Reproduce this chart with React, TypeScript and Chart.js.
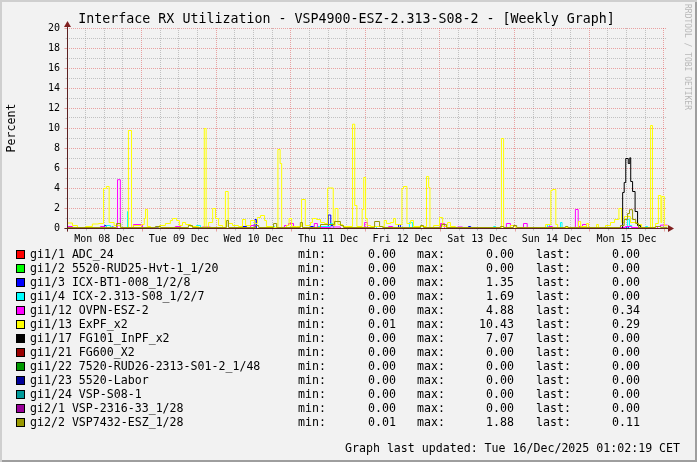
import React, { useEffect, useRef } from "react";
import { Chart, registerables } from "chart.js";

Chart.register(...registerables);

type Pt = [number, number];

// x values: hours since Mon 08 Dec 2025 00:00 CET
const X_START = 0;
const X_END = 193.03; // Tue 16 Dec 01:02
const Y_MIN = 0;
const Y_MAX = 20;

const dayLabels = ["Mon 08 Dec", "Tue 09 Dec", "Wed 10 Dec", "Thu 11 Dec", "Fri 12 Dec", "Sat 13 Dec", "Sun 14 Dec", "Mon 15 Dec"];
const gridHours = [0, 6, 12, 18, 24, 30, 36, 42, 48, 54, 60, 66, 72, 78, 84, 90, 96, 102, 108, 114, 120, 126, 132, 138, 144, 150, 156, 162, 168, 174, 180, 186, 192];
const yGridValues = [0, 1, 2, 3, 4, 5, 6, 7, 8, 9, 10, 11, 12, 13, 14, 15, 16, 17, 18, 19, 20];

const titleText = "Interface RX Utilization - VSP4900-ESZ-2.313-S08-2 - [Weekly Graph]";
const yAxisTitle = "Percent";
const watermark = "RRDTOOL / TOBI OETIKER";
const footerText = "Graph last updated: Tue 16/Dec/2025 01:02:19 CET";

const seriesNames = [
  "gi1/1 ADC_24",
  "gi1/2 5520-RUD25-Hvt-1_1/20",
  "gi1/3 ICX-BT1-008_1/2/8",
  "gi1/4 ICX-2.313-S08_1/2/7",
  "gi1/12 OVPN-ESZ-2",
  "gi1/13 ExPF_x2",
  "gi1/17 FG101_InPF_x2",
  "gi1/21 FG600_X2",
  "gi1/22 7520-RUD26-2313-S01-2_1/48",
  "gi1/23 5520-Labor",
  "gi1/24 VSP-S08-1",
  "gi2/1 VSP-2316-33_1/28",
  "gi2/2 VSP7432-ESZ_1/28",
];
const seriesColors = ["#ff0000", "#00ff00", "#0000ff", "#00ffff", "#ff00ff", "#ffff00", "#000000", "#990000", "#009900", "#000099", "#009999", "#990099", "#999900"];
const minValues = [0, 0, 0, 0, 0, 0.01, 0, 0, 0, 0, 0, 0, 0.01];
const maxValues = [0, 0, 1.35, 1.69, 4.88, 10.43, 7.07, 0, 0, 0, 0, 0, 1.88];
const lastValues = [0, 0, 0, 0, 0.34, 0.29, 0, 0, 0, 0, 0, 0, 0.11];

// step series: [hour, value] — value holds until the next point
const gi1_1: Pt[] = [[0, 0], [193.03, 0]];
const gi1_2: Pt[] = [[0, 0], [193.03, 0]];
const gi1_3: Pt[] = [[0, 0], [6.1, 0.15], [6.8, 0], [11.9, 0.3], [12.5, 0], [14.2, 0.15], [14.8, 0], [27.0, 0.1], [29.3, 0], [56.3, 0.2], [57.6, 0], [60.3, 0.9], [60.8, 0], [78.2, 0.2], [79.1, 0], [83.9, 1.35], [84.7, 0.3], [85.6, 0], [106.5, 0.4], [107.1, 0], [129.0, 0.2], [129.7, 0], [179.9, 0.2], [180.5, 0], [193.03, 0]];
const gi1_4: Pt[] = [[0, 0], [12.5, 0.3], [13.8, 0], [19.3, 1.69], [19.6, 0], [41.5, 0.3], [42.8, 0], [65.3, 0.2], [66.6, 0], [80.4, 0.2], [84.6, 0.5], [85.6, 0], [98.5, 0.2], [99.4, 0], [110.0, 0.6], [111.0, 0], [112.9, 0.2], [113.6, 0], [137.1, 0.2], [137.7, 0], [154.4, 0.4], [155.1, 0], [158.6, 0.6], [159.1, 0], [180.2, 0.9], [180.8, 0.3], [181.5, 0], [186.0, 0.2], [186.6, 0], [193.03, 0]];
const gi1_12: Pt[] = [[0, 0.2], [1.6, 0], [10.6, 0.2], [11.9, 0], [16.1, 4.88], [17.0, 0.1], [17.7, 0], [21.2, 0.4], [24.1, 0.1], [25.1, 0], [34.7, 0.2], [36.4, 0], [43.4, 0.15], [46.0, 0], [58.9, 0.3], [60.5, 0], [69.8, 0.3], [71.1, 0.5], [72.7, 0], [79.4, 0.5], [80.4, 0.1], [84.6, 0.15], [87.8, 0], [95.6, 0.6], [96.5, 0.1], [97.8, 0], [103.3, 0.2], [104.6, 0], [120.0, 0.5], [121.3, 0], [125.5, 0.15], [127.1, 0], [141.2, 0.5], [142.5, 0], [146.7, 0.5], [147.9, 0], [154.8, 0.2], [156.0, 0], [163.4, 1.9], [164.3, 0.2], [165.7, 0.4], [167.0, 0.1], [168.3, 0], [171.5, 0.1], [179.5, 0.2], [181.5, 0.1], [184.3, 0], [189.8, 0.2], [190.8, 0.34], [193.03, 0.34]];
const gi1_13: Pt[] = [[0, 0.55], [1.6, 0.3], [3.2, 0.1], [5.8, 0.2], [8.0, 0.45], [10.0, 0.5], [11.6, 4.0], [12.5, 4.2], [13.4, 0.6], [15.0, 0.3], [17.1, 0.1], [19.6, 9.8], [20.6, 0.1], [21.2, 0.3], [23.8, 0.4], [24.7, 1.0], [25.1, 1.9], [25.7, 0.2], [26.7, 0.05], [29.6, 0.3], [31.5, 0.5], [33.1, 0.8], [33.8, 1.0], [35.1, 0.8], [36.0, 0.3], [37.0, 0.6], [38.0, 0.4], [39.6, 0.2], [42.1, 0.1], [44.0, 10.0], [44.6, 0.1], [45.4, 0.6], [46.7, 2.0], [47.6, 1.0], [48.6, 0.3], [49.9, 0.1], [50.8, 3.7], [51.7, 0.5], [53.1, 0.3], [55.0, 0.2], [56.3, 0.9], [57.3, 0.3], [58.9, 0.8], [60.2, 0.5], [61.1, 1.1], [62.1, 1.3], [63.4, 0.8], [64.0, 0.2], [66.0, 0.1], [67.7, 7.9], [68.4, 6.5], [68.9, 0.1], [70.5, 0.3], [71.3, 1.0], [72.1, 0.2], [73.7, 0.2], [75.3, 2.9], [76.5, 0.3], [78.2, 0.6], [78.8, 1.0], [80.1, 0.9], [81.4, 0.6], [82.7, 0.5], [83.7, 4.05], [85.5, 0.3], [86.1, 2.0], [87.0, 0.4], [88.5, 0.2], [91.7, 10.43], [92.4, 2.3], [93.1, 0.2], [94.8, 1.9], [95.3, 5.1], [95.9, 1.0], [96.4, 0.3], [97.5, 0.2], [101.9, 0.8], [102.6, 0.5], [103.9, 0.6], [104.9, 1.0], [105.5, 0.4], [107.6, 4.0], [108.1, 4.2], [109.2, 0.5], [110.4, 0.8], [111.3, 0.2], [115.5, 5.2], [116.2, 4.1], [116.6, 0.1], [117.8, 0.3], [119.7, 1.1], [120.7, 0.2], [122.3, 0.6], [123.2, 0.2], [124.8, 0.1], [129.0, 0.05], [139.6, 9.0], [140.3, 0.1], [142.5, 0.3], [144.1, 0.05], [153.8, 0.4], [155.5, 3.8], [156.0, 3.9], [157.1, 0.4], [157.7, 0.1], [164.4, 0.7], [165.1, 0.2], [167.0, 0.5], [167.6, 0.1], [170.2, 0.4], [170.8, 0.05], [173.1, 0.3], [174.7, 0.6], [176.0, 0.9], [177.4, 2.0], [178.3, 0.6], [179.2, 1.2], [181.1, 0.6], [183.4, 0.4], [184.7, 0.1], [187.6, 10.3], [188.2, 0.1], [189.2, 0.5], [190.1, 3.3], [190.9, 0.6], [191.2, 3.2], [192.0, 0.29], [193.03, 0.29]];
const gi1_17: Pt[] = [[0, 0], [178.6, 3.6], [179.1, 4.6], [179.6, 7.0], [180.4, 6.5], [180.9, 7.07], [181.2, 4.7], [181.8, 3.7], [182.6, 1.7], [183.4, 0.3], [184.3, 0], [193.03, 0]];
const gi1_21: Pt[] = [[0, 0], [193.03, 0]];
const gi1_22: Pt[] = [[0, 0], [193.03, 0]];
const gi1_23: Pt[] = [[0, 0], [193.03, 0]];
const gi1_24: Pt[] = [[0, 0], [193.03, 0]];
const gi2_1: Pt[] = [[0, 0], [193.03, 0]];
const gi2_2: Pt[] = [[0, 0.1], [15.8, 0.5], [17.1, 0.1], [28.3, 0.2], [29.9, 0.1], [38.9, 0.3], [40.2, 0.1], [51.2, 0.8], [51.8, 0.1], [60.5, 0.3], [61.5, 0.1], [66.3, 0.5], [67.3, 0.1], [74.9, 0.6], [75.6, 0.1], [81.4, 0.4], [85.9, 0.7], [87.8, 0.3], [88.8, 0.1], [98.8, 0.7], [100.4, 0.2], [101.4, 0.1], [113.6, 0.3], [114.5, 0.1], [120.3, 0.4], [121.9, 0.1], [139.3, 0.2], [140.3, 0.1], [143.5, 0.3], [144.5, 0.1], [160.2, 0.2], [161.0, 0.1], [177.9, 0.3], [179.1, 0.9], [180.2, 1.5], [180.8, 1.88], [181.8, 0.9], [182.8, 0.5], [183.7, 0.1], [189.2, 0.2], [190.8, 0.11], [193.03, 0.11]];

const seriesData: Pt[][] = [gi1_1, gi1_2, gi1_3, gi1_4, gi1_12, gi1_13, gi1_17, gi1_21, gi1_22, gi1_23, gi1_24, gi2_1, gi2_2];

const FONT = "'DejaVu Sans Mono', monospace";
const BG = "#f2f2f2";
const MINOR = "rgba(143,143,143,0.5)";
const MAJOR = "rgba(222,80,80,0.5)";
const AXIS = "#5a2020";
const ARROW = "#801f1f";

const rrdPlugin = {
  id: "rrdAxes",
  beforeDatasetsDraw(chart: any) {
    chart.ctx.save();
    chart.ctx.translate(0.5, 0.5);
  },
  afterDatasetsDraw(chart: any) {
    const { ctx, chartArea: a, scales } = chart;
    ctx.restore();
    const xs = scales.x;
    const ys = scales.y;
    const ay = Math.round(ys.getPixelForValue(Y_MIN)) + 0.5;
    const ax = Math.round(xs.getPixelForValue(X_START)) + 0.5;
    ctx.save();
    ctx.lineWidth = 1;
    for (const h of gridHours) {
      const px = Math.round(xs.getPixelForValue(h)) + 0.5;
      ctx.strokeStyle = h % 24 === 0 ? MAJOR : MINOR;
      ctx.beginPath();
      ctx.moveTo(px, ay);
      ctx.lineTo(px, ay + (h % 24 === 0 ? 3 : 2));
      ctx.stroke();
    }
    for (const v of yGridValues) {
      const py = Math.round(ys.getPixelForValue(v)) + 0.5;
      ctx.strokeStyle = v % 2 === 0 ? MAJOR : MINOR;
      ctx.beginPath();
      ctx.moveTo(ax - (v % 2 === 0 ? 3 : 2), py);
      ctx.lineTo(ax, py);
      ctx.stroke();
    }
    ctx.strokeStyle = AXIS;
    ctx.beginPath();
    ctx.moveTo(ax - 3, ay);
    ctx.lineTo(a.right + 2, ay);
    ctx.moveTo(ax, ay + 3);
    ctx.lineTo(ax, a.top - 2);
    ctx.stroke();
    ctx.fillStyle = ARROW;
    ctx.beginPath();
    ctx.moveTo(a.right + 1, ay - 3.5);
    ctx.lineTo(a.right + 7, ay);
    ctx.lineTo(a.right + 1, ay + 3.5);
    ctx.closePath();
    ctx.fill();
    ctx.beginPath();
    ctx.moveTo(ax - 3.5, a.top - 1);
    ctx.lineTo(ax, a.top - 7);
    ctx.lineTo(ax + 3.5, a.top - 1);
    ctx.closePath();
    ctx.fill();
    ctx.restore();
  },
};

const ROW0 = 254;
const ROW_STEP = 14.04;

export default function App() {
  const ref = useRef<HTMLCanvasElement>(null);
  useEffect(() => {
    document.body.style.margin = "0";
    const canvas = ref.current!;
    const n = seriesData.length;
    const chart = new Chart(canvas, {
      type: "line",
      data: {
        datasets: seriesData.map((pts, i) => ({
          label: seriesNames[i],
          data: pts.map(([x, y]) => ({ x, y })),
          borderColor: seriesColors[i],
          backgroundColor: seriesColors[i],
          borderWidth: 1,
          pointRadius: 0,
          pointHoverRadius: 0,
          stepped: "before" as const,
          fill: false,
          tension: 0,
          order: n - 1 - i,
          clip: false as any,
        })),
      },
      options: {
        animation: false,
        responsive: false,
        maintainAspectRatio: false,
        devicePixelRatio: 1,
        events: [],
        layout: { padding: { left: 0, top: 28, right: 30, bottom: 0 } },
        plugins: { legend: { display: false }, tooltip: { enabled: false }, title: { display: false } },
        scales: {
          x: {
            type: "linear",
            min: X_START,
            max: X_END,
            afterBuildTicks: (s: any) => {
              s.ticks = gridHours.map((v) => ({ value: v }));
            },
            afterFit: (s: any) => {
              s.height = 234;
            },
            grid: {
              color: (c: any) => (c.tick && c.tick.value % 24 === 0 ? MAJOR : MINOR),
              drawTicks: false,
              lineWidth: 1,
            },
            border: { display: false, dash: [1, 1] },
            ticks: {
              autoSkip: false,
              maxRotation: 0,
              minRotation: 0,
              padding: 5,
              color: "#000",
              font: { family: FONT, size: 10 },
              callback: (v: any) => {
                const h = Number(v);
                return h % 24 === 12 ? dayLabels[(h - 12) / 24] ?? "" : "";
              },
            },
          },
          y: {
            type: "linear",
            min: Y_MIN,
            max: Y_MAX,
            afterBuildTicks: (s: any) => {
              s.ticks = yGridValues.map((v) => ({ value: v }));
            },
            afterFit: (s: any) => {
              s.width = 67;
            },
            grid: {
              color: (c: any) => (c.tick && c.tick.value % 2 === 0 ? MAJOR : MINOR),
              drawTicks: false,
              lineWidth: 1,
            },
            border: { display: false, dash: [1, 1] },
            ticks: {
              autoSkip: false,
              padding: 7,
              color: "#000",
              font: { family: FONT, size: 10 },
              callback: (v: any) => (Number(v) % 2 === 0 ? String(v) : ""),
            },
          },
        },
      },
      plugins: [rrdPlugin],
    } as any);
    return () => chart.destroy();
  }, []);

  const legendFont: React.CSSProperties = {
    position: "absolute",
    fontFamily: FONT,
    fontSize: "11.6px",
    lineHeight: "14px",
    color: "#000",
    whiteSpace: "pre",
  };

  return (
    <div style={{ position: "relative", width: 697, height: 462, background: BG, overflow: "hidden" }}>
      <canvas ref={ref} width={697} height={462} style={{ position: "absolute", left: 0, top: 0, width: 697, height: 462 }} />
      <div style={{ position: "absolute", left: 0, top: 11, width: 693, textAlign: "center", fontFamily: FONT, fontSize: "13.3px", lineHeight: "16px", color: "#000", whiteSpace: "pre" }}>
        {titleText}
      </div>
      <div style={{ position: "absolute", left: 11, top: 128, transform: "translate(-50%, -50%) rotate(-90deg)", fontFamily: FONT, fontSize: "11.6px", lineHeight: "14px", color: "#000", whiteSpace: "pre" }}>
        {yAxisTitle}
      </div>
      <div style={{ position: "absolute", left: 682, top: 4, writingMode: "vertical-rl", fontFamily: FONT, fontSize: "8px", lineHeight: "10px", color: "#b8b8b8", whiteSpace: "pre" }}>
        {watermark}
      </div>
      {seriesNames.map((name, i) => {
        const cy = ROW0 + ROW_STEP * i;
        return (
          <React.Fragment key={name}>
            <div style={{ position: "absolute", left: 16, top: cy - 4.5, width: 9, height: 9, boxSizing: "border-box", border: "1px solid #000", background: seriesColors[i] }} />
            <div style={{ ...legendFont, left: 30, top: cy - 7 }}>{name}</div>
            <div style={{ ...legendFont, left: 298, top: cy - 7 }}>min:</div>
            <div style={{ ...legendFont, left: 336, width: 60, textAlign: "right", top: cy - 7 }}>{minValues[i].toFixed(2)}</div>
            <div style={{ ...legendFont, left: 417, top: cy - 7 }}>max:</div>
            <div style={{ ...legendFont, left: 454, width: 60, textAlign: "right", top: cy - 7 }}>{maxValues[i].toFixed(2)}</div>
            <div style={{ ...legendFont, left: 536, top: cy - 7 }}>last:</div>
            <div style={{ ...legendFont, left: 580, width: 60, textAlign: "right", top: cy - 7 }}>{lastValues[i].toFixed(2)}</div>
          </React.Fragment>
        );
      })}
      <div style={{ ...legendFont, left: 345, top: 441 }}>{footerText}</div>
      <div style={{ position: "absolute", left: 0, top: 0, width: 697, height: 462, boxSizing: "border-box", pointerEvents: "none", boxShadow: "inset 2px 2px 0 #cfcfcf, inset -2px -2px 0 #9e9e9e" }} />
    </div>
  );
}
